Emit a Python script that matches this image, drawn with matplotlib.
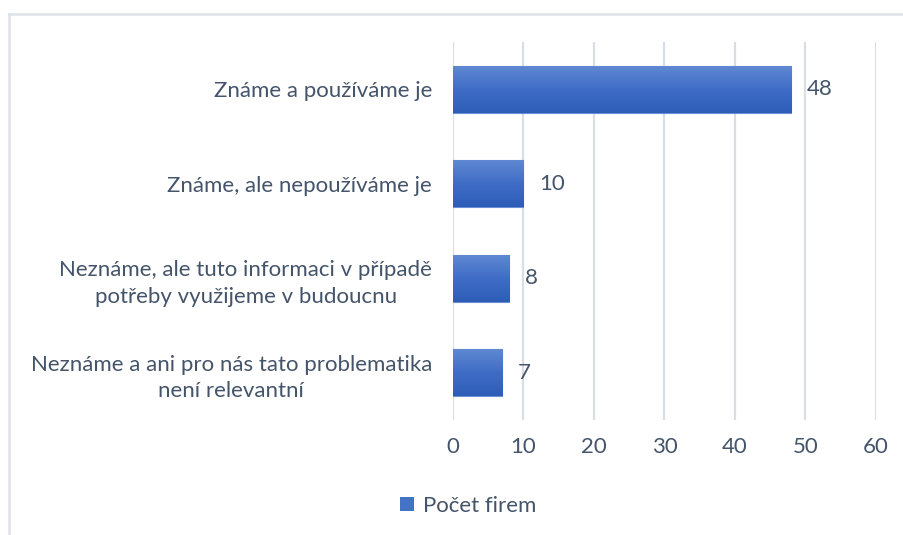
import numpy as np
import matplotlib.pyplot as plt
from matplotlib.colors import LinearSegmentedColormap
from matplotlib.patches import Patch
from matplotlib.lines import Line2D

plt.rcParams['font.family'] = ['Lato', 'DejaVu Sans']

categories = [
    'Známe a používáme je',
    'Známe, ale nepoužíváme je',
    'Neznáme, ale tuto informaci v případě\npotřeby využijeme v budoucnu',
    'Neznáme a ani pro nás tato problematika\nnení relevantní',
]
values = [48, 10, 8, 7]
xticks = [0, 10, 20, 30, 40, 50, 60]
series_name = 'Počet firem'

text_col = '#44546A'
grid_col = '#D9DEE5'
fs = 16

fig = plt.figure(figsize=(9.04, 5.35), dpi=100)
ax = fig.add_axes([0.501, 0.215, 0.468, 0.7065])

y = np.arange(len(categories))
bars = ax.barh(y, values, height=0.5, color='#4472C4', edgecolor='#6A8FD6', linewidth=0.8, zorder=2)

# vertical gradient inside each bar (lighter on top)
cmap = LinearSegmentedColormap.from_list('g', ['#2E5DB8', '#3F6DC6', '#6189D3'])
grad = np.linspace(0, 1, 64).reshape(-1, 1)
for b in bars:
    x0, y0 = b.get_x(), b.get_y()
    im = ax.imshow(grad, cmap=cmap, aspect='auto', origin='lower',
                   extent=[x0, x0 + b.get_width(), y0 + b.get_height(), y0], zorder=3)
    im.set_clip_path(b)

for yi, v in zip(y, values):
    ax.text(v + 2.2, yi, str(v), va='center', ha='left', fontsize=fs, color=text_col)

ax.set_xlim(0, 60)
ax.set_ylim(len(categories) - 0.5, -0.5)
ax.set_xticks(xticks)
ax.set_xticklabels([str(t) for t in xticks], fontsize=fs, color=text_col)
ax.set_yticks(y)
ax.set_yticklabels(categories, fontsize=fs, color=text_col, ha='right',
                   multialignment='center', linespacing=1.4)
ax.tick_params(axis='y', length=0, pad=15)
ax.tick_params(axis='x', length=0, pad=12)
ax.grid(axis='x', color=grid_col, linewidth=1.6, zorder=0)
ax.set_axisbelow(True)
for s in ax.spines.values():
    s.set_visible(False)

# chart border (top and left visible)
fig.add_artist(Line2D([0.0105, 0.0105], [0, 0.974], color='#DDE2E8', lw=1.8, transform=fig.transFigure))
fig.add_artist(Line2D([0.0105, 1.0], [0.974, 0.974], color='#DDE2E8', lw=1.8, transform=fig.transFigure))

fig.legend(handles=[Patch(facecolor='#4472C4', label=series_name)], loc='center',
           bbox_to_anchor=(0.518, 0.055), frameon=False, fontsize=fs,
           handlelength=0.6, handleheight=0.6, handletextpad=0.4, labelcolor=text_col)

fig.savefig('out.png', dpi=100, facecolor='white')
